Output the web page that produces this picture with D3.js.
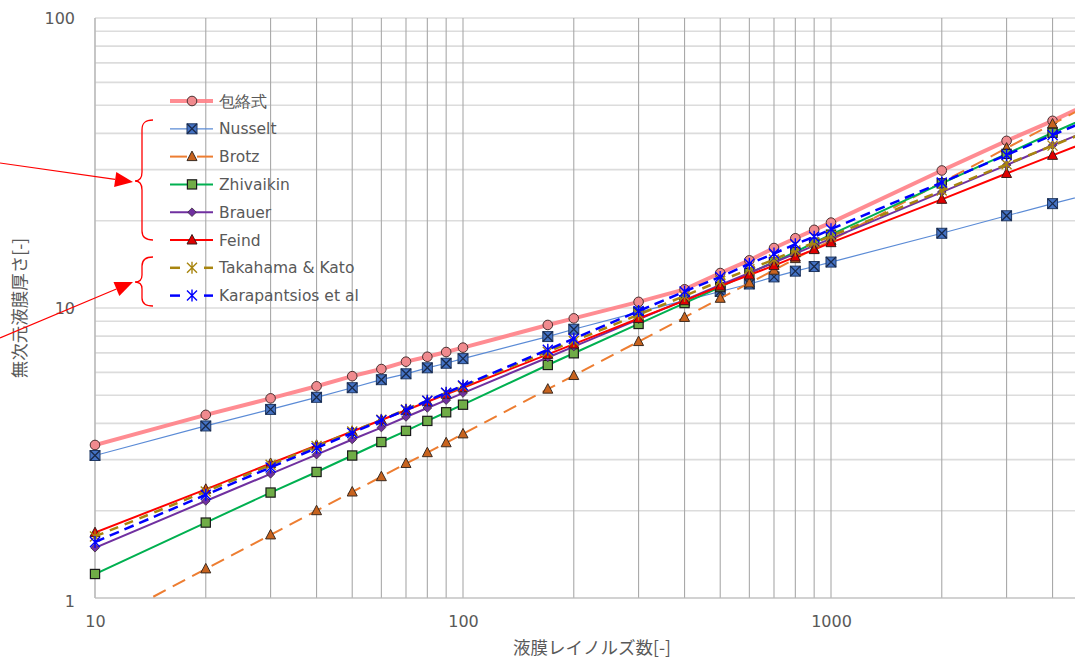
<!DOCTYPE html>
<html><head><meta charset="utf-8">
<script src="https://cdn.jsdelivr.net/npm/d3@7"></script>
<style>body{margin:0;background:#fff}svg{display:block}</style>
</head><body>
<svg id="c" width="1075" height="660"></svg>
<script>
const reynolds = [10,20,30,40,50,60,70,80,90,100,170,200,300,400,500,600,700,800,900,1000,2000,3000,4000,5000];
const envelope = [3.37,4.28,4.88,5.37,5.82,6.16,6.53,6.79,7.05,7.30,8.74,9.21,10.5,11.6,13.2,14.6,16.1,17.4,18.6,19.7,29.8,37.7,44.2,50.5];
const nusselt = [3.10,3.92,4.47,4.92,5.31,5.66,5.93,6.22,6.45,6.69,7.97,8.45,9.68,10.6,11.4,12.1,12.8,13.4,13.9,14.4,18.1,20.8,22.9,24.6];
const brotz = [0.79,1.26,1.65,2.00,2.32,2.62,2.91,3.17,3.43,3.68,5.25,5.85,7.66,9.28,10.8,12.2,13.5,14.8,16.0,17.1,27.1,35.6,43.1,50.0];
const zhivaikin = [1.21,1.82,2.31,2.72,3.10,3.45,3.77,4.08,4.37,4.64,6.36,6.98,8.81,10.4,11.8,13.2,14.4,15.6,16.8,17.9,26.9,34.0,40.2,45.6];
const brauer = [1.49,2.16,2.68,3.12,3.52,3.87,4.21,4.52,4.81,5.09,6.75,7.36,9.14,10.65,12.0,13.2,14.35,15.4,16.4,17.35,25.1,31.1,36.4,40.9];
const feind = [1.68,2.37,2.91,3.36,3.75,4.11,4.44,4.75,5.04,5.31,6.92,7.51,9.20,10.6,11.9,13.0,14.0,15.0,15.9,16.8,23.7,29.1,33.6,37.5];
const takahama = [1.63,2.33,2.88,3.34,3.75,4.12,4.47,4.79,5.09,5.37,7.07,7.69,9.49,11.0,12.4,13.6,14.7,15.8,16.8,17.7,25.4,31.3,36.3,40.7];
const karapantsios = [1.56,2.27,2.82,3.29,3.71,4.10,4.45,4.79,5.10,5.40,7.18,7.84,9.76,11.4,12.8,14.2,15.4,16.6,17.6,18.7,27.1,33.7,39.5,44.5];
const seriesNames = ["包絡式","Nusselt","Brotz","Zhivaikin","Brauer","Feind","Takahama & Kato","Karapantsios et al"];
const xTickLabels = [10,100,1000];
const yTickLabels = [1,10,100];
const xTitle = "液膜レイノルズ数[-]";
const yTitle = "無次元液膜厚さ[-]";

const seriesValues = [envelope,nusselt,brotz,zhivaikin,brauer,feind,takahama,karapantsios];
const styles = [
  {color:"#ff7f86", width:4, dash:null, marker:"circle", fill:"#f08a8e", mstroke:"#4a3030", opacity:0.9},
  {color:"#5b8bd6", width:1.2, dash:null, marker:"xsquare", fill:"#4472c4", mstroke:"#1f3864"},
  {color:"#ed7d31", width:2, dash:"14,8", marker:"triangle", fill:"#c8631e", mstroke:"#3a2a20"},
  {color:"#00b050", width:2, dash:null, marker:"square", fill:"#70ad47", mstroke:"#1a1a1a"},
  {color:"#7030a0", width:2, dash:null, marker:"diamond", fill:"#7030a0", mstroke:"#3a2a3a"},
  {color:"#ff0000", width:2, dash:null, marker:"triangle", fill:"#e00000", mstroke:"#3a1a1a"},
  {color:"#a8850f", width:2.5, dash:"9,7", marker:"star", fill:"#a8850f", mstroke:"#a8850f"},
  {color:"#0000ff", width:2.5, dash:"10,6", marker:"star", fill:"#0000ff", mstroke:"#0000ff"}
];

const svg = d3.select("#c");
const L = 95, T = 18, B = 598, R = 1075;
const x = d3.scaleLog().domain([10,10000]).range([L, L + 368*3]);
const y = d3.scaleLog().domain([1,100]).range([B, T]);

svg.append("defs").append("clipPath").attr("id","plot")
  .append("rect").attr("x",L-8).attr("y",T-8).attr("width",R-L+8).attr("height",B-T+8);
svg.append("defs").append("clipPath").attr("id","plotStrict")
  .append("rect").attr("x",L).attr("y",T).attr("width",R-L).attr("height",B-T);

// grid
const yMinor = [];
[1,10].forEach(d => { for (let k=1;k<=9;k++) yMinor.push(k*d); });
yMinor.push(100);
const xMinor = [];
[10,100,1000].forEach(d => { for (let k=1;k<=9;k++) xMinor.push(k*d); });
xMinor.push(10000);

const g = svg.append("g");
g.selectAll(".hg").data(yMinor).join("line")
  .attr("x1",L).attr("x2",R).attr("y1",d=>y(d)).attr("y2",d=>y(d))
  .attr("stroke","#dcdcdc").attr("stroke-width",1.6);
g.selectAll(".vg").data(xMinor.filter(v=>x(v)<=R)).join("line")
  .attr("x1",d=>x(d)).attr("x2",d=>x(d)).attr("y1",T).attr("y2",B)
  .attr("stroke","#a9a9a9").attr("stroke-width",1.1);
g.append("line").attr("x1",L).attr("x2",L).attr("y1",T).attr("y2",B).attr("stroke","#bfbfbf").attr("stroke-width",1.2);
g.append("line").attr("x1",L).attr("x2",R).attr("y1",B).attr("y2",B).attr("stroke","#bfbfbf").attr("stroke-width",1.2);

// axes labels
const xAxis = d3.axisBottom(x).tickValues(xTickLabels).tickFormat(d3.format("d")).tickSize(0).tickPadding(18);
const xa = svg.append("g").attr("transform",`translate(0,${B})`).call(xAxis);
xa.select(".domain").remove();
xa.selectAll("text").attr("font-family","DejaVu Sans, Verdana, sans-serif").attr("font-size",16).attr("fill","#595959");

const yAxis = d3.axisLeft(y).tickValues(yTickLabels).tickFormat(d3.format("d")).tickSize(0).tickPadding(20);
const ya = svg.append("g").attr("transform",`translate(${L},0)`).call(yAxis);
ya.select(".domain").remove();
ya.selectAll("text").attr("font-family","DejaVu Sans, Verdana, sans-serif").attr("font-size",16).attr("fill","#595959")
  .attr("dy", d => d===1 ? "0.55em" : "0.32em");

svg.append("text").attr("x",592).attr("y",654).attr("text-anchor","middle")
  .attr("font-family","Noto Sans CJK JP, sans-serif").attr("font-size",17.5).attr("fill","#595959").text(xTitle);
svg.append("text").attr("transform","translate(26,308) rotate(-90)").attr("text-anchor","middle")
  .attr("font-family","Noto Sans CJK JP, sans-serif").attr("font-size",17.5).attr("fill","#595959").text(yTitle);

// markers
function drawMarker(sel, type, cx, cy, st) {
  if (type==="circle") {
    sel.append("circle").attr("cx",cx).attr("cy",cy).attr("r",4.8).attr("fill",st.fill).attr("stroke",st.mstroke).attr("stroke-width",1);
  } else if (type==="xsquare") {
    const s=5;
    sel.append("rect").attr("x",cx-s).attr("y",cy-s).attr("width",2*s).attr("height",2*s).attr("fill",st.fill).attr("stroke",st.mstroke).attr("stroke-width",1);
    sel.append("path").attr("d",`M${cx-s},${cy-s}L${cx+s},${cy+s}M${cx-s},${cy+s}L${cx+s},${cy-s}`).attr("stroke","#1a2a4a").attr("stroke-width",1.3);
  } else if (type==="triangle") {
    const s=5;
    sel.append("path").attr("d",`M${cx},${cy-s-0.5}L${cx+s},${cy+s-1}L${cx-s},${cy+s-1}Z`).attr("fill",st.fill).attr("stroke",st.mstroke).attr("stroke-width",1);
  } else if (type==="square") {
    const s=4.6;
    sel.append("rect").attr("x",cx-s).attr("y",cy-s).attr("width",2*s).attr("height",2*s).attr("fill",st.fill).attr("stroke",st.mstroke).attr("stroke-width",1.2);
  } else if (type==="diamond") {
    const s=4.3;
    sel.append("path").attr("d",`M${cx},${cy-s}L${cx+s},${cy}L${cx},${cy+s}L${cx-s},${cy}Z`).attr("fill",st.fill).attr("stroke",st.mstroke).attr("stroke-width",0.8);
  } else if (type==="star") {
    const s=5;
    sel.append("path").attr("d",`M${cx},${cy-s-1}L${cx},${cy+s+1}M${cx-s},${cy-s}L${cx+s},${cy+s}M${cx-s},${cy+s}L${cx+s},${cy-s}`)
      .attr("stroke",st.mstroke).attr("stroke-width",1.4).attr("fill","none");
  }
}

const line = d3.line().x((d,i)=>x(reynolds[i])).y(d=>y(d));
const plot = svg.append("g").attr("clip-path","url(#plot)");
seriesValues.forEach((vals, si) => {
  const st = styles[si];
  const gg = plot.append("g");
  gg.append("path").datum(vals).attr("d",line).attr("fill","none")
    .attr("stroke",st.color).attr("stroke-width",st.width).attr("stroke-dasharray",st.dash)
    .attr("stroke-opacity",st.opacity||1).attr("clip-path","url(#plotStrict)");
  vals.forEach((v,i) => {
    const px = x(reynolds[i]), py = y(v);
    if (py > B + 3 || px > R + 6) return;
    drawMarker(gg, st.marker, px, py, st);
  });
});

// legend
const leg = svg.append("g");
seriesNames.forEach((name, i) => {
  const st = styles[i];
  const ly = 101 + i*27.8;
  let segs;
  if (st.dash && st.marker==="triangle") segs = [[170,187],[197,213]];
  else if (st.dash) segs = [[170,180],[204,213]];
  else segs = [[170,213]];
  segs.forEach(sg => leg.append("line").attr("x1",sg[0]).attr("x2",sg[1]).attr("y1",ly).attr("y2",ly)
    .attr("stroke",st.color).attr("stroke-width",st.width).attr("stroke-opacity",st.opacity||1));
  drawMarker(leg, st.marker, 192, ly, st);
  leg.append("text").attr("x",219).attr("y",ly).attr("dy","0.36em")
    .attr("font-family","DejaVu Sans, Verdana, sans-serif").attr("font-size",15.5).attr("fill","#595959").text(name);
});

// braces and arrows (annotation)
const ann = svg.append("g").attr("stroke","#ff0000").attr("fill","none").attr("stroke-width",1.3);
ann.append("path").attr("d","M153,120 C145,120 142,123 142,130 L142,172 C142,178 140,181 135,181 C140,181 142,184 142,190 L142,231 C142,237 145,240 153,240");
ann.append("path").attr("d","M153,257 C145,257 142,260 142,266 L142,275 C142,280 140,282 135,282 C140,282 142,284 142,289 L142,298 C142,303 145,306 153,306");
function arrow(x0,y0,x1,y1){
  const dx=x1-x0, dy=y1-y0, len=Math.hypot(dx,dy), ux=dx/len, uy=dy/len;
  const hl=18, hw=7.5;
  const bx=x1-ux*hl, by=y1-uy*hl;
  svg.append("line").attr("x1",x0).attr("y1",y0).attr("x2",bx).attr("y2",by).attr("stroke","#ff0000").attr("stroke-width",1.2);
  svg.append("path").attr("d",`M${x1},${y1}L${bx-uy*hw},${by+ux*hw}L${bx+uy*hw},${by-ux*hw}Z`).attr("fill","#ff0000");
}
arrow(0,163,133,182);
arrow(0,338,133,282);
</script>
</body></html>
